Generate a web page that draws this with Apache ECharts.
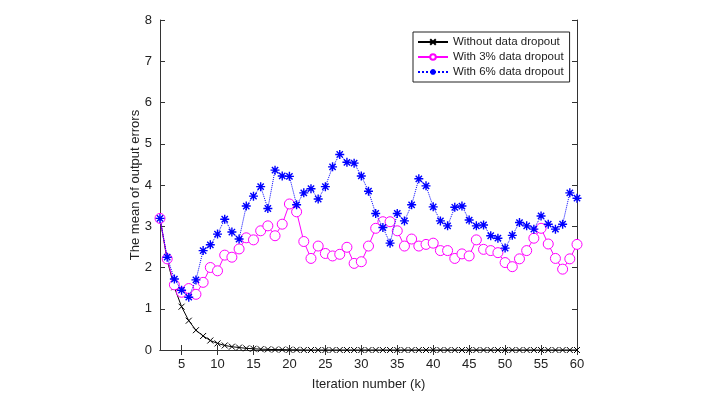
<!DOCTYPE html>
<html><head><meta charset="utf-8">
<script src="https://cdn.jsdelivr.net/npm/echarts@6/dist/echarts.min.js"></script>
<style>html,body{margin:0;padding:0;background:#fff}#c{width:719px;height:406px}</style>
</head><body><div id="c"></div>
<script>
const iterations = [];
for (let k = 2; k <= 60; k++) iterations.push(k);
const noDropout = [3.19,2.18,1.52,1.05,0.71,0.48,0.34,0.23,0.16,0.11,0.08,0.06,0.04,0.03,0.02,0.015,0.01,0.01,0.005,0.005,0,0,0,0,0,0,0,0,0,0,0,0,0,0,0,0,0,0,0,0,0,0,0,0,0,0,0,0,0,0,0,0,0,0,0,0,0,0,0];
const dropout3 = [3.19,2.21,1.58,1.40,1.49,1.35,1.64,2.00,1.92,2.30,2.25,2.45,2.72,2.67,2.89,3.01,2.77,3.05,3.54,3.35,2.63,2.22,2.52,2.34,2.28,2.32,2.49,2.10,2.14,2.52,2.95,3.11,3.11,2.89,2.52,2.69,2.52,2.56,2.59,2.41,2.41,2.22,2.33,2.28,2.67,2.44,2.41,2.36,2.12,2.02,2.21,2.41,2.71,2.95,2.57,2.22,1.96,2.21,2.56];
const dropout6 = [3.19,2.25,1.72,1.45,1.28,1.70,2.41,2.55,2.81,3.17,2.86,2.69,3.49,3.73,3.96,3.43,4.36,4.22,4.21,3.52,3.81,3.91,3.66,3.96,4.44,4.74,4.55,4.53,4.22,3.85,3.31,2.97,2.59,3.31,3.13,3.52,4.15,3.98,3.47,3.13,3.01,3.46,3.49,3.15,3.01,3.03,2.77,2.71,2.47,2.78,3.09,3.01,2.93,3.25,3.05,2.93,3.05,3.81,3.68];
const xTicks = [5,10,15,20,25,30,35,40,45,50,55,60];
const seriesNames = ['Without data dropout','With 3% data dropout','With 6% data dropout'];

const pair = arr => iterations.map((k,i)=>[k,arr[i]]);
const FONT = 'Liberation Sans';
const axisCol = '#333';
const xSym = 'path://M0,0L10,10M10,0L0,10';
const starSym = 'path://M5,0L5,10M0,5L10,5M1.5,1.5L8.5,8.5M8.5,1.5L1.5,8.5';

const chart = echarts.init(document.getElementById('c'), null, {renderer:'canvas'});
const xBase = {type:'value', min:2, max:60,
  axisLine:{lineStyle:{color:axisCol,width:1}},
  axisTick:{inside:true,length:5,customValues:xTicks,lineStyle:{color:axisCol}},
  splitLine:{show:false}};
const yBase = {type:'value', min:0, max:8, interval:1,
  axisLine:{show:true,lineStyle:{color:axisCol,width:1}},
  axisTick:{show:true,inside:true,length:5,lineStyle:{color:axisCol}},
  splitLine:{show:false}};
chart.setOption({
  animation:false,
  backgroundColor:'#fff',
  grid:{left:160,right:142,top:20,bottom:56,containLabel:false},
  xAxis:[
    Object.assign({}, xBase, {position:'bottom',
      name:'Iteration number (k)', nameLocation:'middle', nameGap:28, nameMoveOverlap:false,
      nameTextStyle:{fontFamily:FONT,fontSize:13,color:'#222'},
      axisLabel:{customValues:xTicks,fontFamily:FONT,fontSize:13,color:'#222',margin:8}}),
    Object.assign({}, xBase, {position:'top', axisLabel:{show:false}})
  ],
  yAxis:[
    Object.assign({}, yBase, {position:'left',
      name:'The mean of output errors', nameLocation:'middle', nameGap:18, nameMoveOverlap:false,
      nameTextStyle:{fontFamily:FONT,fontSize:13,color:'#222'},
      axisLabel:{fontFamily:FONT,fontSize:13,color:'#222',margin:8}}),
    Object.assign({}, yBase, {position:'right', axisLabel:{show:false}})
  ],
  legend:{
    data:seriesNames, orient:'vertical', left:413, top:32,
    backgroundColor:'#fff', borderColor:'#222', borderWidth:1, borderRadius:0,
    padding:[4,6,4,4], itemGap:3, itemWidth:30, itemHeight:7,
    textStyle:{fontFamily:FONT,fontSize:11.5,color:'#222'}
  },
  series:[
    {name:seriesNames[0], type:'line', data:pair(noDropout),
      symbol:xSym, symbolSize:6, showAllSymbol:true,
      lineStyle:{color:'#000',width:1},
      itemStyle:{color:'none',borderColor:'#000',borderWidth:1}, z:3},
    {name:seriesNames[1], type:'line', data:pair(dropout3),
      symbol:'circle', symbolSize:10, showAllSymbol:true,
      lineStyle:{color:'#ff00ff',width:1},
      itemStyle:{color:'#fff',borderColor:'#ff00ff',borderWidth:1}, z:4},
    {name:seriesNames[2], type:'line', data:pair(dropout6),
      symbol:starSym, symbolSize:9, showAllSymbol:true,
      lineStyle:{color:'#0000ff',width:1,type:'dotted'},
      itemStyle:{color:'none',borderColor:'#0000ff',borderWidth:1.4}, z:5}
  ]
});
</script></body></html>
